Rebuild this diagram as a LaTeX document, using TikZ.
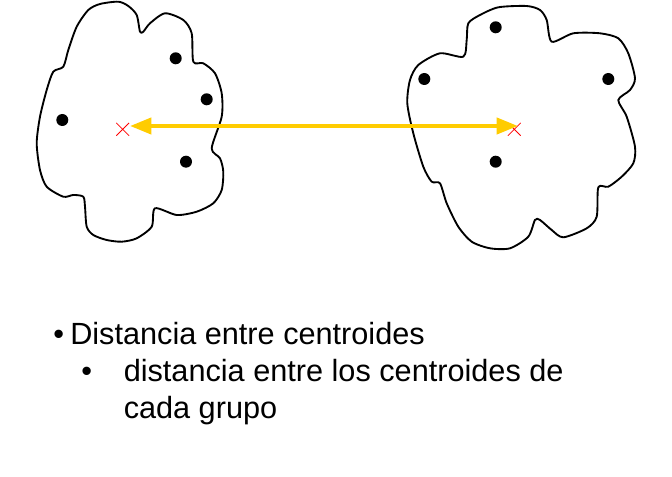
\documentclass[tikz,border=0pt]{standalone}
\usepackage{fontspec}
\setmainfont{Liberation Sans}
\usetikzlibrary{arrows.meta,shapes.misc}
\begin{document}
\begin{tikzpicture}[x=0.75pt,y=-0.75pt,
  blob/.style={draw=black,line width=1.4pt,line join=round},
  pt/.style={circle,fill=black,inner sep=0pt,minimum size=9pt},
  cent/.style={cross out,draw=red,line width=0.6pt,inner sep=0pt,minimum size=9pt},
  dist/.style={draw={rgb,255:red,255;green,204;blue,0},line width=3pt,
    {Triangle[length=16pt,width=12pt]}-{Triangle[length=16pt,width=12pt]}},
  txt/.style={anchor=base west,inner sep=0pt,font=\fontsize{23pt}{27pt}\selectfont}]
\useasboundingbox (0,0) rectangle (672,477);
% left cluster
\draw[blob] plot[smooth cycle,tension=0.45] coordinates {
(88.3,10) (100,4) (118.3,1.7) (128.3,6) (136.7,15) (140,31.7) (143.3,31.7)
(150,23.3) (165,13.3) (183.3,20) (191.7,33.3) (193.3,61.7) (203.3,63.3)
(215,73.3) (221.7,93.3) (221.7,116.7) (211.7,148.3) (220,158.3) (223.3,171.7)
(221.7,190) (213.3,203.3) (196.7,211.7) (176.7,215) (155,208.3) (151.7,226.7)
(136.7,238.3) (121.7,241.7) (106.7,240) (93.3,235) (86.7,226.7) (85,206.7)
(83.3,196.7) (73.3,195) (63.3,196.7) (46.7,186.7) (40,170) (36.7,143.3)
(40,116.7) (46.7,90) (53.3,71.7) (63.3,66.7) (68.3,50) (76.7,26.7)};
% right cluster
\draw[blob] plot[smooth cycle,tension=0.45] coordinates {
(468.3,23.3) (480,15) (498.3,7.3) (526.7,6) (540,10) (546.7,20) (551.7,41.7)
(573.3,33.3) (600,33.3) (618.3,38.3) (628.3,53.3) (635,78.3) (630,90)
(618.3,100) (626.7,116.7) (635,146.7) (633.3,163.3) (621.7,176.7) (608.3,186.7)
(598.3,187.3) (596.7,216.7) (586.7,228.3) (563.3,237.3) (551.7,230) (540,220)
(535,220) (528.3,236.7) (510,248.3) (490,248.3) (471.7,241.7) (458.3,226.7)
(446.7,203.3) (440,183.3) (431.7,181.7) (423.3,166.7) (413.3,133.3)
(407.3,103.3) (410,80) (418.3,65) (440,53.3) (463.3,56.7) (466.7,40)};
% points
\node[pt] (l1) at (175.7,58.3) {};
\node[pt] (l2) at (206.7,99.3) {};
\node[pt] (l3) at (62.3,120) {};
\node[pt] (l4) at (186,161.7) {};
\node[pt] (r1) at (495.7,27.3) {};
\node[pt] (r2) at (424.3,79) {};
\node[pt] (r3) at (608.3,79) {};
\node[pt] (r4) at (495.7,161.7) {};
% centroids
\node[cent] (cl) at (122.7,129.3) {};
\node[cent] (cr) at (514.3,129.3) {};
\coordinate (al) at (130,126);
\coordinate (ar) at (518,126);
\draw[dist] (al) -- (ar);
% text
\node[txt] (b1) at (53,345) {•};
\node[txt] (t1) at (70,345) {Distancia entre centroides};
\node[txt] (b2) at (81,381.7) {•};
\node[txt] (t2) at (123.5,381.7) {distancia entre los centroides de};
\node[txt] (t3) at (123.5,418.3) {cada grupo};
\end{tikzpicture}
\end{document}
